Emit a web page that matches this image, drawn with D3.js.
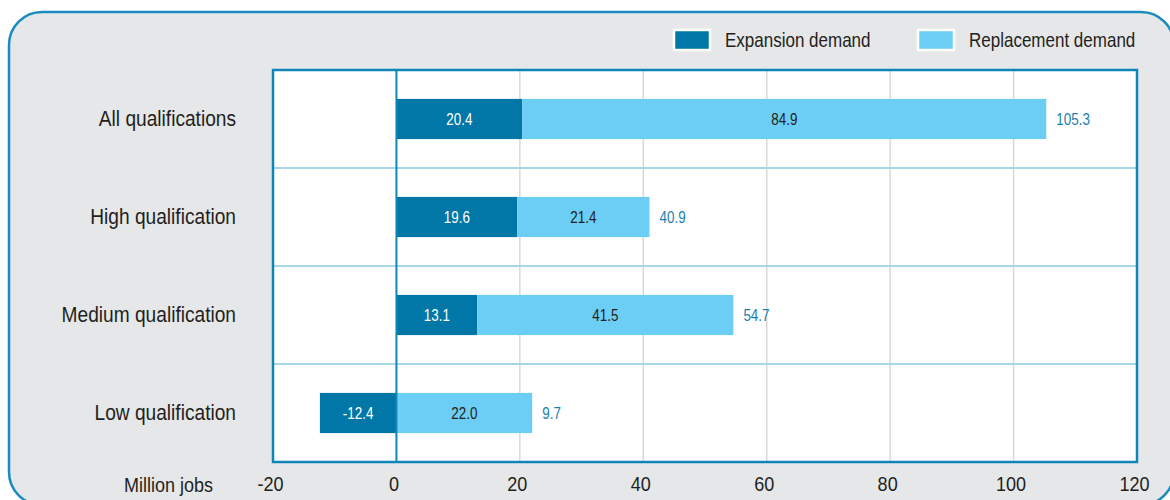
<!DOCTYPE html>
<html>
<head>
<meta charset="utf-8">
<script src="https://cdn.jsdelivr.net/npm/d3@7"></script>
<style>
  html, body { margin: 0; padding: 0; background: #fff; }
  svg { display: block; font-family: "Liberation Sans", Arial, sans-serif; }
</style>
</head>
<body>
<svg id="chart" width="1170" height="500"></svg>
<script>
// data
var categories = ["All qualifications", "High qualification", "Medium qualification", "Low qualification"];
var expansion = [20.4, 19.6, 13.1, -12.4];
var replacement = [84.9, 21.4, 41.5, 22.0];
var totals = [105.3, 40.9, 54.7, 9.7];
var xTicks = [-20, 0, 20, 40, 60, 80, 100, 120];
var seriesNames = ["Expansion demand", "Replacement demand"];
var seriesColors = ["#0077a6", "#6dcef5"];

var svg = d3.select("#chart");
var plot = { left: 273, right: 1137, top: 70, bottom: 462 };

// no narrow font installed, so squeeze the text sideways
function narrow(sel, sx) {
    sel.each(function () {
        var t = d3.select(this);
        var tx = +t.attr("x") || 0, ty = +t.attr("y") || 0;
        t.attr("x", 0).attr("y", 0)
            .attr("transform", "translate(" + tx + "," + ty + ") scale(" + sx + ",1)");
    });
}

// outer rounded panel
svg.append("rect")
    .attr("x", 9).attr("y", 12)
    .attr("width", 1165).attr("height", 493)
    .attr("rx", 33).attr("ry", 33)
    .attr("fill", "#e6e7e9")
    .attr("stroke", "#1a8bbf")
    .attr("stroke-width", 2.5);

var x = d3.scaleLinear().domain([-20, 120]).range([plot.left, plot.right]);
var y = d3.scaleBand().domain(categories).range([plot.top, plot.bottom])
    .paddingInner(0.59).paddingOuter(0.295);
var step = y.step();

// plot background
svg.append("rect")
    .attr("x", plot.left).attr("y", plot.top)
    .attr("width", plot.right - plot.left).attr("height", plot.bottom - plot.top)
    .attr("fill", "#fff");

// vertical grid
svg.append("g").selectAll("line")
    .data(xTicks.filter(function (d) { return d > -20 && d < 120 && d != 0; }))
    .enter().append("line")
    .attr("x1", function (d) { return x(d); })
    .attr("x2", function (d) { return x(d); })
    .attr("y1", plot.top).attr("y2", plot.bottom)
    .attr("stroke", "#d9d9d9")
    .attr("stroke-width", 1.5);

// row separators
svg.append("g").selectAll("line")
    .data(categories.slice(1))
    .enter().append("line")
    .attr("x1", plot.left).attr("x2", plot.right)
    .attr("y1", function (d) { return y(d) - step * y.paddingInner() / 2; })
    .attr("y2", function (d) { return y(d) - step * y.paddingInner() / 2; })
    .attr("stroke", "#a6d6e7")
    .attr("stroke-width", 2);

// bars
var rows = categories.map(function (c, i) {
    return { cat: c, e: expansion[i], r: replacement[i], t: totals[i] };
});

var g = svg.append("g");
g.selectAll(".exp").data(rows).enter().append("rect")
    .attr("class", "exp")
    .attr("x", function (d) { return x(Math.min(0, d.e)); })
    .attr("width", function (d) { return Math.abs(x(d.e) - x(0)); })
    .attr("y", function (d) { return y(d.cat); })
    .attr("height", y.bandwidth())
    .attr("fill", seriesColors[0]);

g.selectAll(".rep").data(rows).enter().append("rect")
    .attr("class", "rep")
    .attr("x", function (d) { return x(Math.max(0, d.e)); })
    .attr("width", function (d) { return x(Math.max(0, d.e) + d.r) - x(Math.max(0, d.e)); })
    .attr("y", function (d) { return y(d.cat); })
    .attr("height", y.bandwidth())
    .attr("fill", seriesColors[1]);

// value labels
g.selectAll(".expLbl").data(rows).enter().append("text")
    .attr("x", function (d) { return (x(d.e) + x(0)) / 2; })
    .attr("y", function (d) { return y(d.cat) + y.bandwidth() / 2; })
    .attr("dy", "0.35em")
    .attr("text-anchor", "middle")
    .attr("font-size", 16)
    .attr("fill", "#fff")
    .text(function (d) { return d.e.toFixed(1); })
    .call(narrow, 0.84);

g.selectAll(".repLbl").data(rows).enter().append("text")
    .attr("x", function (d) { var s = Math.max(0, d.e); return (x(s) + x(s + d.r)) / 2; })
    .attr("y", function (d) { return y(d.cat) + y.bandwidth() / 2; })
    .attr("dy", "0.35em")
    .attr("text-anchor", "middle")
    .attr("font-size", 16)
    .attr("fill", "#231f20")
    .text(function (d) { return d.r.toFixed(1); })
    .call(narrow, 0.84);

g.selectAll(".totLbl").data(rows).enter().append("text")
    .attr("x", function (d) { return x(Math.max(0, d.e) + d.r) + 10; })
    .attr("y", function (d) { return y(d.cat) + y.bandwidth() / 2; })
    .attr("dy", "0.35em")
    .attr("font-size", 16)
    .attr("fill", "#1a7fb0")
    .text(function (d) { return d.t.toFixed(1); })
    .call(narrow, 0.84);

// zero line
svg.append("line")
    .attr("x1", x(0)).attr("x2", x(0))
    .attr("y1", plot.top).attr("y2", plot.bottom)
    .attr("stroke", "#0e86b8")
    .attr("stroke-width", 2);

// plot border
svg.append("rect")
    .attr("x", plot.left).attr("y", plot.top)
    .attr("width", plot.right - plot.left).attr("height", plot.bottom - plot.top)
    .attr("fill", "none")
    .attr("stroke", "#0e86b8")
    .attr("stroke-width", 2.5);

// category labels
svg.append("g").selectAll("text")
    .data(categories).enter().append("text")
    .attr("x", 236)
    .attr("y", function (d) { return y(d) + y.bandwidth() / 2 - 1; })
    .attr("dy", "0.35em")
    .attr("text-anchor", "end")
    .attr("font-size", 22)
    .attr("fill", "#231f20")
    .text(function (d) { return d; })
    .call(narrow, 0.87);

// x axis
var xAxis = d3.axisBottom(x).tickValues(xTicks).tickSize(0).tickPadding(14)
    .tickFormat(function (d) { return String(d); });
var ax = svg.append("g")
    .attr("transform", "translate(-3," + plot.bottom + ")")
    .call(xAxis);
ax.select(".domain").remove();
ax.selectAll("text")
    .attr("font-family", null)
    .attr("font-size", 21)
    .attr("fill", "#231f20")
    .attr("transform", "scale(0.86,1)");
// keep tick label centres on the scale after squeezing
ax.selectAll(".tick text").attr("transform", "scale(0.86,1)");

svg.append("text")
    .attr("x", 213).attr("y", 485)
    .attr("dy", "0.35em")
    .attr("text-anchor", "end")
    .attr("font-size", 20)
    .attr("fill", "#231f20")
    .text("Million jobs")
    .call(narrow, 0.9);

// legend
var legendX = [674, 918];
var leg = svg.append("g").selectAll("g")
    .data(seriesNames).enter().append("g")
    .attr("transform", function (d, i) { return "translate(" + legendX[i] + ",30)"; });
leg.append("rect")
    .attr("width", 36).attr("height", 20)
    .attr("fill", function (d, i) { return seriesColors[i]; })
    .attr("stroke", "#fff")
    .attr("stroke-width", 2.5);
leg.append("text")
    .attr("x", 51).attr("y", 10)
    .attr("dy", "0.35em")
    .attr("font-size", 21)
    .attr("fill", "#231f20")
    .text(function (d) { return d; })
    .call(narrow, 0.81);
</script>
</body>
</html>
